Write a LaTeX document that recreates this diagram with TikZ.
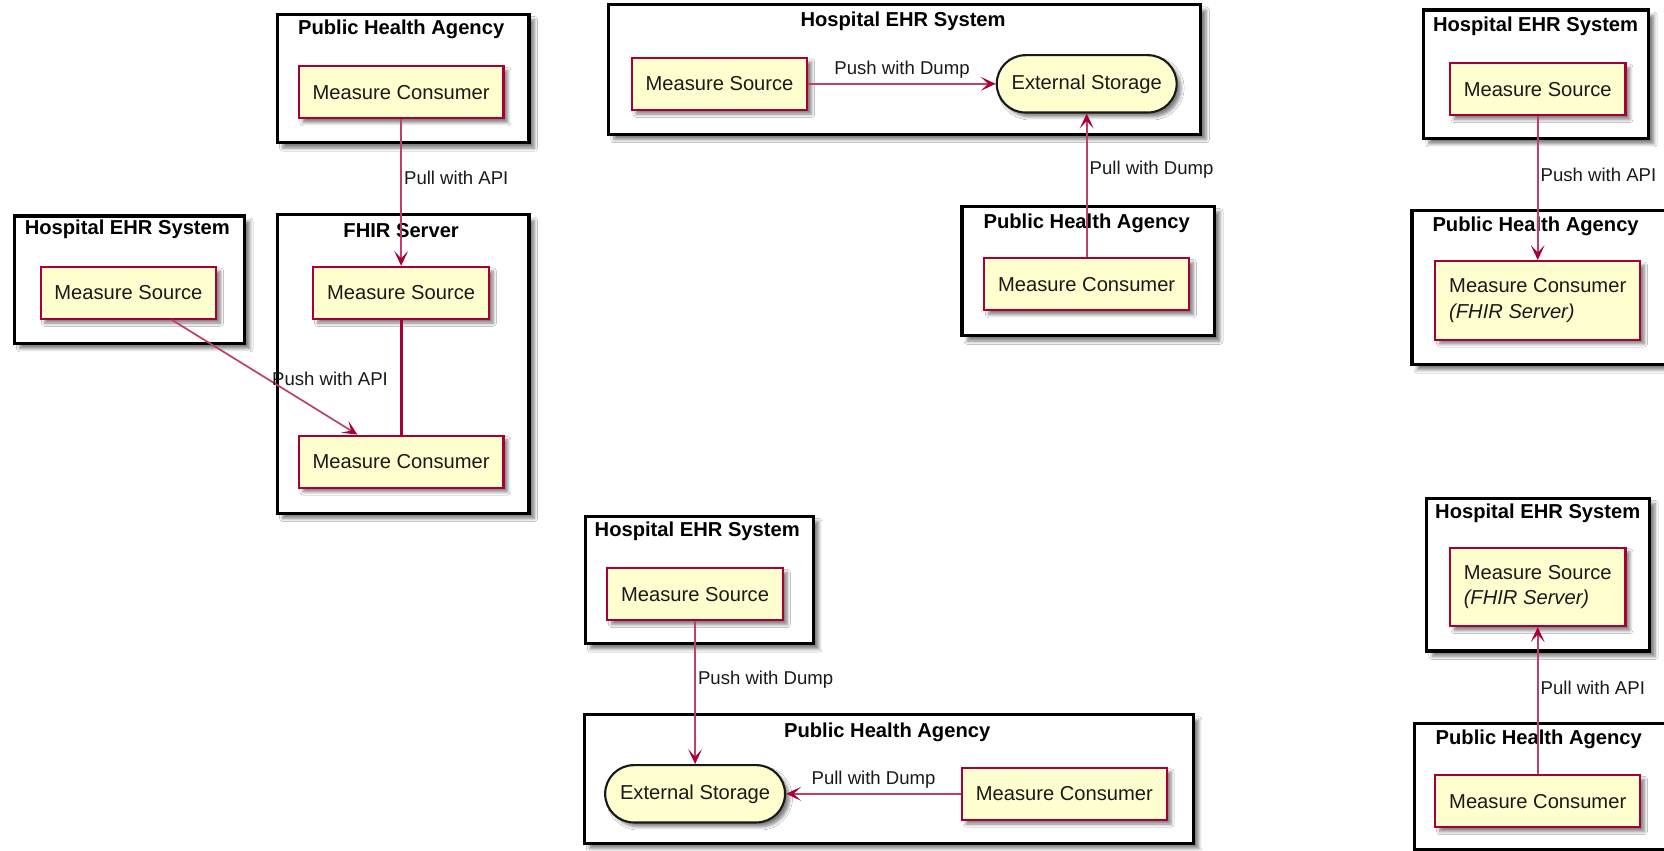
\documentclass[tikz,border=0pt]{standalone}
\usepackage{fontspec}
\setmainfont{Liberation Sans}
\usetikzlibrary{shadows.blur,arrows.meta}
\definecolor{pumlred}{HTML}{A80036}
\definecolor{pumlfill}{HTML}{FEFECE}
\definecolor{txt}{HTML}{1A1A1A}
\tikzset{
  shd/.style={blur shadow={shadow xshift=4pt, shadow yshift=-4pt, shadow blur steps=6, shadow blur radius=3pt, shadow opacity=50}},
  comp/.style={shd, draw=pumlred, fill=pumlfill, line width=2pt, rectangle, inner xsep=13pt,
    minimum height=49pt, font=\fontsize{19}{24}\selectfont, text=txt},
  comptwo/.style={comp, align=left, minimum height=74pt},
  store/.style={shd, draw=black!90, fill=pumlfill, line width=2pt, rectangle, rounded corners=27pt,
    inner xsep=14pt, minimum height=54pt, font=\fontsize{19}{24}\selectfont, text=txt},
  frame/.style={blur shadow={shadow xshift=5pt, shadow yshift=-5pt, shadow blur steps=6, shadow blur radius=3pt, shadow opacity=50},
    draw=black, fill=white, line width=3pt, anchor=north west, inner sep=0pt, rectangle},
  ttl/.style={font=\bfseries\fontsize{19}{22}\selectfont, text=black, inner sep=0pt},
  arr/.style={draw=pumlred!75!white, line width=1.6pt, -{Stealth[length=14pt,width=13pt,inset=7pt,color=pumlred]}},
  link/.style={draw=pumlred, line width=3pt},
  lbl/.style={font=\fontsize{17.5}{20}\selectfont, inner sep=1pt, text=txt},
}
\begin{document}
\begin{tikzpicture}[x=1pt,y=-1pt]
\useasboundingbox (0,0) rectangle (1568,801);
\clip (0,0) rectangle (1568,801);
\fill[white] (0,0) rectangle (1568,801);

% ---------- Diagram A ----------
\node[frame, minimum width=237pt, minimum height=121pt] (fA1) at (260,12) {};
\node[frame, minimum width=217pt, minimum height=120pt] (fA2) at (12,202) {};
\node[frame, minimum width=237pt, minimum height=281pt] (fA3) at (260,201) {};
\node[ttl] (tA1) at (378,28) {Public Health Agency};
\node[ttl] (tA2) at (120,216) {Hospital EHR System};
\node[ttl] (tA3) at (378,217) {FHIR Server};
\node[comp] (amc) at (378,87) {Measure Consumer};
\node[comp] (ams) at (121,276) {Measure Source};
\node[comp] (fms) at (378,276) {Measure Source};
\node[comp] (fmc) at (378,435) {Measure Consumer};
\draw[link] (fms) -- (fmc);
\draw[arr] (amc) -- (fms) node[lbl, pos=0.40, anchor=west, xshift=1pt] {Pull with API};
\draw[arr] (ams) -- (fmc) node[lbl, pos=0.53, anchor=west, yshift=2pt] {Push with API};

% ---------- Diagram B ----------
\node[frame, minimum width=558pt, minimum height=122pt] (fB1) at (572,3) {};
\node[frame, minimum width=238pt, minimum height=122pt] (fB2) at (905,193) {};
\node[ttl] (tB1) at (851,20) {Hospital EHR System};
\node[ttl] (tB2) at (1024,210) {Public Health Agency};
\node[comp] (bms) at (678,79) {Measure Source};
\node[store] (bes) at (1024,79) {External Storage};
\node[comp] (bmc) at (1024,268) {Measure Consumer};
\draw[arr] (bms) -- (bes) node[lbl, midway, above=3pt] {Push with Dump};
\draw[arr] (bmc) -- (bes) node[lbl, pos=0.61, anchor=west, xshift=1pt] {Pull with Dump};

% ---------- Diagram C ----------
\node[frame, minimum width=212pt, minimum height=121pt] (fC1) at (1340,8) {};
\node[frame, minimum width=240pt, minimum height=145pt] (fC2) at (1329,197) {};
\node[ttl] (tC1) at (1447,25) {Hospital EHR System};
\node[ttl] (tC2) at (1447,213) {Public Health Agency};
\node[comp] (cms) at (1449,84) {Measure Source};
\node[comptwo] (cmc) at (1449,283) {Measure Consumer\\\textit{(FHIR Server)}};
\draw[arr] (cms) -- (cmc) node[lbl, pos=0.41, anchor=west, xshift=1pt] {Push with API};

% ---------- Diagram D ----------
\node[frame, minimum width=215pt, minimum height=120pt] (fD1) at (550,485) {};
\node[frame, minimum width=574pt, minimum height=121pt] (fD2) at (549,672) {};
\node[ttl] (tD1) at (657,501) {Hospital EHR System};
\node[ttl] (tD2) at (836,690) {Public Health Agency};
\node[comp] (dms) at (655,560) {Measure Source};
\node[store] (des) at (655,748) {External Storage};
\node[comp] (dmc) at (1003,748) {Measure Consumer};
\draw[arr] (dms) -- (des) node[lbl, pos=0.41, anchor=west, xshift=1pt] {Push with Dump};
\draw[arr] (dmc) -- (des) node[lbl, midway, above=3pt] {Pull with Dump};

% ---------- Diagram E ----------
\node[frame, minimum width=210pt, minimum height=144pt] (fE1) at (1343,468) {};
\node[frame, minimum width=240pt, minimum height=119pt] (fE2) at (1331,680) {};
\node[ttl] (tE1) at (1449,484) {Hospital EHR System};
\node[ttl] (tE2) at (1450,697) {Public Health Agency};
\node[comptwo] (ems) at (1449,553) {Measure Source\\\textit{(FHIR Server)}};
\node[comp] (emc) at (1449,755) {Measure Consumer};
\draw[arr] (emc) -- (ems) node[lbl, pos=0.59, anchor=west, xshift=1pt] {Pull with API};
\end{tikzpicture}
\end{document}
